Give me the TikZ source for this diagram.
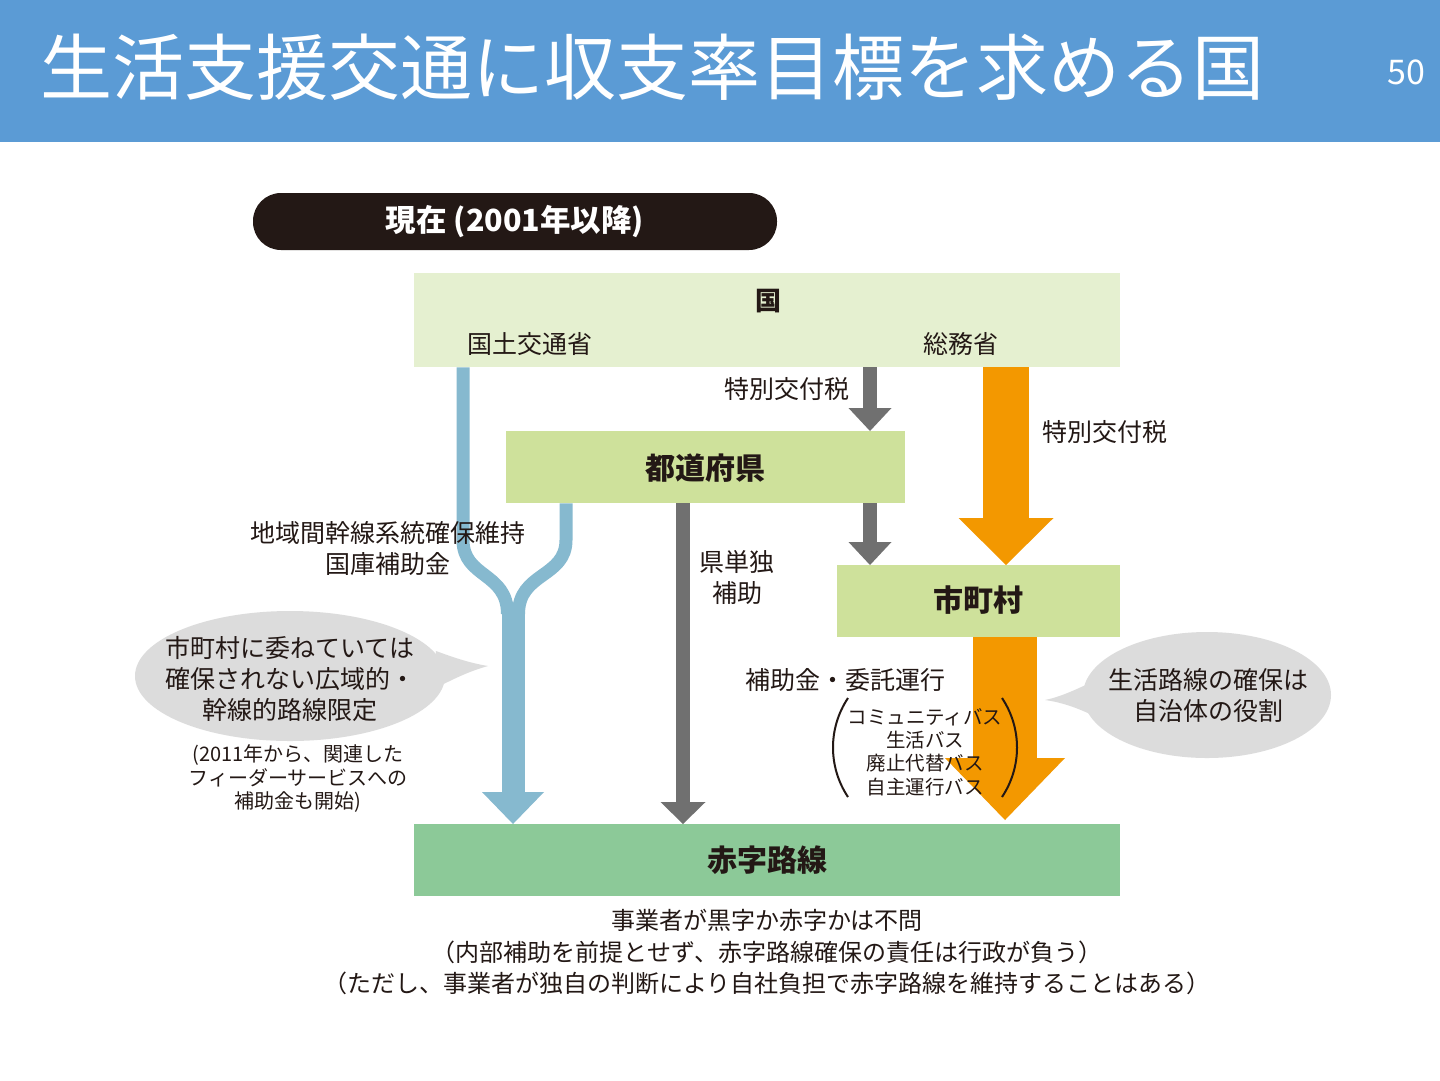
\documentclass[tikz,border=0pt]{standalone}
\usepackage{fontspec}
\setmainfont{Noto Sans CJK JP}
\usetikzlibrary{arrows.meta}
\definecolor{hdr}{RGB}{91,155,213}
\definecolor{pill}{RGB}{35,24,21}
\definecolor{kunibg}{RGB}{229,240,208}
\definecolor{midbg}{RGB}{206,225,155}
\definecolor{redbg}{RGB}{140,201,152}
\definecolor{bluearrc}{RGB}{134,185,207}
\definecolor{grayarrc}{RGB}{112,112,112}
\definecolor{orangec}{RGB}{243,152,0}
\definecolor{bubblec}{RGB}{220,220,220}
\definecolor{txt}{RGB}{35,24,21}
\tikzset{
  fsz/.style={font=\fontsize{#1}{31}\selectfont},
  lbl/.style={inner sep=0pt, align=center, text=txt},
  boxnode/.style={inner sep=0pt, anchor=north west},
  bluearr/.style={draw=bluearrc, line cap=butt},
  grayarr/.style={draw=grayarrc, line width=14pt, -{Triangle[width=43pt,length=23pt,line width=0pt]}},
  bubble/.style={fill=bubblec},
}
\begin{document}
\begin{tikzpicture}[x=1pt,y=-1pt]
\useasboundingbox (0,0) rectangle (1440,1080);
\fill[white] (0,0) rectangle (1440,1080);
% header
\fill[hdr] (0,0) rectangle (1440,142);
\node[inner sep=0pt, text=white, font=\fontsize{72}{80}\selectfont] (title) at (652,67) {生活支援交通に収支率目標を求める国};
\node[inner sep=0pt, text=white, font=\fontsize{34}{40}\selectfont] (pageno) at (1406,72) {50};
% pill
\node[fill=pill, rounded corners=28pt, minimum width=524pt, minimum height=57pt, inner sep=0pt, text=white, font=\fontsize{30.5}{34}\selectfont\bfseries] (pillnode) at (515,221.5) {現在 (2001年以降)};
% boxes
\node[boxnode, fill=kunibg, minimum width=706pt, minimum height=94pt] (kuni) at (414,273) {};
\node[boxnode, fill=midbg, minimum width=399pt, minimum height=72pt] (pref) at (506,431) {};
\node[boxnode, fill=midbg, minimum width=283pt, minimum height=72pt] (shi) at (837,565) {};
\node[boxnode, fill=redbg, minimum width=706pt, minimum height=72pt] (red) at (414,824) {};
% bubbles
\fill[bubble] (290,676) ellipse [x radius=155, y radius=65];
\fill[bubble] (436,651) .. controls (455,658) and (470,663) .. (488,666) .. controls (470,671) and (455,678) .. (432,690) -- cycle;
\fill[bubble] (1207,695) ellipse [x radius=124, y radius=63];
\fill[bubble] (1092,682) .. controls (1075,690) and (1060,697) .. (1045,700) .. controls (1060,702) and (1075,707) .. (1090,714) -- cycle;
% blue arrow
\coordinate (merge) at (513,606);
\draw[bluearr, line width=13pt] (463,0 |- kuni.south) -- (463,540) .. controls (463,578) and (507.5,572) .. (507.5,614);
\draw[bluearr, line width=13pt] (566,0 |- pref.south) -- (566,540) .. controls (566,578) and (518.5,572) .. (518.5,614);
\draw[bluearr, line width=23pt, -{Triangle[width=62pt,length=32pt,line width=0pt]}] (merge) -- (513,0 |- red.north);
% gray arrows
\draw[grayarr] (870,0 |- kuni.south) -- (870,0 |- pref.north);
\draw[grayarr] (870,0 |- pref.south) -- (870,0 |- shi.north);
\draw[grayarr, -{Triangle[width=45pt,length=22pt,line width=0pt]}] (683,0 |- pref.south) -- (683,0 |- red.north);
% orange arrows
\draw[draw=orangec, line width=46pt, -{Triangle[width=95pt,length=47pt,line width=0pt]}] (1006,0 |- kuni.south) -- (1006,0 |- shi.north);
\draw[draw=orangec, line width=64pt, -{Triangle[width=120pt,length=62pt,line width=0pt]}] (1005,0 |- shi.south) -- (1005,820);
% parentheses
\draw[line width=2pt, txt] (848,698) .. controls (828,728) and (828,767) .. (848,797) coordinate (lparen);
\draw[line width=2pt, txt] (1002,698) .. controls (1022,728) and (1022,767) .. (1002,797) coordinate (rparen);
% texts
\node[lbl, font=\bfseries\fontsize{26}{30}\selectfont] (kunit) at (768,301) {国};
\node[lbl, fsz=25] (mlit) at (530,344) {国土交通省};
\node[lbl, fsz=25] (mic) at (961,344) {総務省};
\node[lbl, fsz=25] (tokubetsu1) at (787,389) {特別交付税};
\node[lbl, font=\bfseries\fontsize{30}{34}\selectfont] (preft) at (705,468) {都道府県};
\node[lbl, fsz=25] (tokubetsu2) at (1105,432) {特別交付税};
\node[lbl, font=\bfseries\fontsize{30}{34}\selectfont] (shit) at (978,600) {市町村};
\node[lbl, font=\fontsize{25}{31}\selectfont] (chiiki) at (388,549) {地域間幹線系統確保維持\\国庫補助金};
\node[lbl, font=\fontsize{25}{31}\selectfont] (ken) at (737,577) {県単独\\補助};
\node[lbl, font=\fontsize{25}{31}\selectfont] (lbub) at (290,679) {市町村に委ねていては\\確保されない広域的・\\幹線的路線限定};
\node[lbl, font=\fontsize{20}{23.5}\selectfont] (note) at (298,779) {(2011年から、関連した\\フィーダーサービスへの\\補助金も開始)};
\node[lbl, fsz=25] (itaku) at (845,680) {補助金・委託運行};
\node[lbl, font=\fontsize{19.5}{23.3}\selectfont] (buslist) at (925,752) {コミュニティバス\\生活バス\\廃止代替バス\\自主運行バス};
\node[lbl, font=\fontsize{25}{31}\selectfont] (rbub) at (1208,695) {生活路線の確保は\\自治体の役割};
\node[lbl, font=\bfseries\fontsize{30}{34}\selectfont] (redt) at (767,860) {赤字路線};
\node[lbl, font=\fontsize{24}{31.5}\selectfont] (bottom) at (767,952) {事業者が黒字か赤字かは不問\\（内部補助を前提とせず、赤字路線確保の責任は行政が負う）\\（ただし、事業者が独自の判断により自社負担で赤字路線を維持することはある）};
\end{tikzpicture}
\end{document}
